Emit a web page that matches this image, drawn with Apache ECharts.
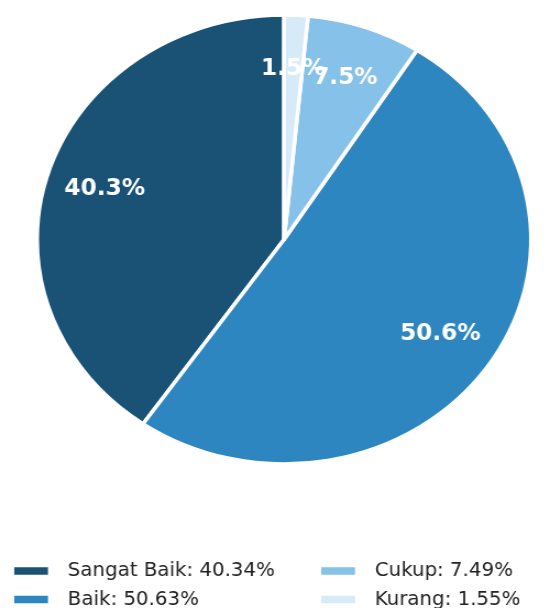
<!DOCTYPE html>
<html>
<head>
<meta charset="utf-8">
<script src="https://cdn.jsdelivr.net/npm/echarts@6/dist/echarts.min.js"></script>
<style>
html,body{margin:0;padding:0;background:#fff;overflow:hidden;}
#wrap{width:559px;height:608px;overflow:hidden;position:relative;}
#chart{width:508.2px;height:608px;transform:scaleX(1.1);transform-origin:0 0;position:absolute;left:0;top:0;}
</style>
</head>
<body>
<div id="wrap"><div id="chart"></div></div>
<script>
const categories = ['Sangat Baik', 'Baik', 'Cukup', 'Kurang'];
const values = [40.34, 50.63, 7.49, 1.55];
const colors = ['#1A5276', '#2E86C1', '#85C1E9', '#D6EAF8'];

const total = values.reduce((a, b) => a + b, 0);
const data = categories.map((c, i) => ({ name: c, value: values[i], itemStyle: { color: colors[i] } }));
const FONT = '"DejaVu Sans Condensed", "DejaVu Sans", sans-serif';

const chart = echarts.init(document.getElementById('chart'), null, { renderer: 'canvas' });
const legendCommon = {
  orient: 'vertical',
  padding: 0,
  itemWidth: 32.7,
  itemHeight: 9.5,
  itemGap: 8.5,
  icon: 'rect',
  height: 60,
  selectedMode: false,
  textStyle: { fontFamily: FONT, fontSize: 20, lineHeight: 20, color: '#222', padding: [0, 0, 0, 12] },
  formatter: function (name) {
    const i = categories.indexOf(name);
    return name + ': ' + values[i].toFixed(2) + '%';
  }
};
chart.setOption({
  animation: false,
  legend: [
    Object.assign({}, legendCommon, { data: [categories[0], categories[1]], left: 10.9, top: 561 }),
    Object.assign({}, legendCommon, { data: [categories[2], categories[3]], left: 290, top: 561 })
  ],
  series: [
    {
      type: 'pie',
      center: [258.2, 239.5],
      radius: [0, 224.5],
      startAngle: 90,
      clockwise: false,
      label: { show: false },
      labelLine: { show: false },
      itemStyle: { borderColor: '#fff', borderWidth: 3.5 },
      emphasis: { disabled: true },
      data: data
    },
    {
      type: 'pie',
      center: [258.2, 239.5],
      radius: [111, 224.5],
      startAngle: 90,
      clockwise: false,
      silent: true,
      avoidLabelOverlap: false,
      legendHoverLink: false,
      itemStyle: { color: 'rgba(0,0,0,0)' },
      label: {
        show: true,
        position: 'inside',
        color: '#fff',
        fontFamily: FONT,
        fontWeight: 'bold',
        fontSize: 23.5,
        formatter: function (p) { return (p.value / total * 100).toFixed(1) + '%'; }
      },
      labelLine: { show: false },
      labelLayout: { hideOverlap: false },
      emphasis: { disabled: true },
      data: categories.map((c, i) => ({ name: c + ' ', value: values[i] }))
    }
  ]
});
</script>
</body>
</html>
